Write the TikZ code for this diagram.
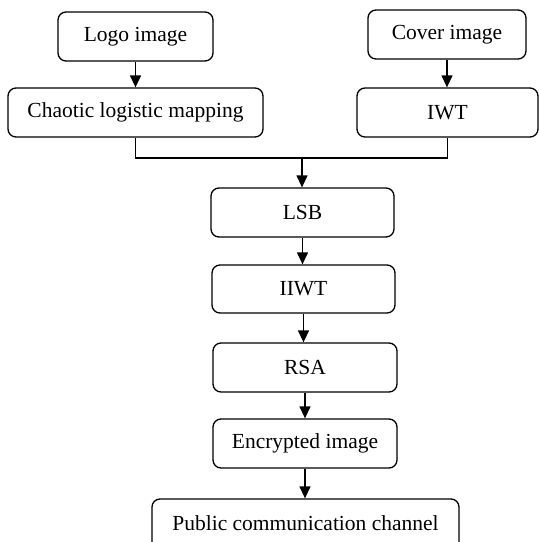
\documentclass[tikz,border=0pt]{standalone}
\usepackage{fontspec}
\setmainfont{Liberation Serif}
\usetikzlibrary{arrows.meta}

\tikzset{
  stage/.style={draw, line width=1.3pt, rounded corners=8pt, minimum height=49pt,
    inner sep=0pt, font=\fontsize{21.5}{24}\selectfont},
  flow/.style={line width=1.3pt, -{Triangle[length=12pt,width=11pt]}},
  link/.style={line width=1.3pt}
}

\begin{document}
\begin{tikzpicture}[x=1pt,y=-1pt]
  \useasboundingbox (0,0) rectangle (539,542);
  \clip (0,0) rectangle (539,542);

  % input branches
  \node[stage, minimum width=155pt] (logo) at (135.5,36.5) {Logo image};
  \node[stage, minimum width=255pt] (chaos) at (135.5,112.5) {Chaotic logistic mapping};
  \node[stage, minimum width=158pt] (cover) at (447,34.5) {Cover image};
  \node[stage, minimum width=181pt] (iwt) at (447.5,112.5) {IWT};

  % embedding chain
  \node[stage, minimum width=183pt] (lsb) at (302.5,212.5) {LSB};
  \node[stage, minimum width=183pt, minimum height=48pt] (iiwt) at (303.5,289) {IIWT};
  \node[stage, minimum width=184pt] (rsa) at (305,367.5) {RSA};
  \node[stage, minimum width=184pt] (enc) at (305,443.5) {Encrypted image};

  % output channel box (runs past the lower edge)
  \node[stage, minimum width=307pt, minimum height=70pt] (pub) at (305.5,534) {};
  \node[font=\fontsize{21.5}{24}\selectfont, inner sep=0pt] (pubtext) at (305.5,523) {Public communication channel};

  \coordinate (merge) at (302,158);

  \draw[flow] (logo.south) -- (logo.south |- chaos.north);
  \draw[flow] (cover.south) -- (cover.south |- iwt.north);
  \draw[link] (chaos.south) |- (iwt.south |- merge) -- (iwt.south);
  \draw[flow] (merge) -- (merge |- lsb.north);
  \draw[flow] (lsb.south) -- (lsb.south |- iiwt.north);
  \draw[flow] (iiwt.south) -- (iiwt.south |- rsa.north);
  \draw[flow] (rsa.south) -- (rsa.south |- enc.north);
  \draw[flow] (enc.south) -- (enc.south |- pub.north);
\end{tikzpicture}
\end{document}
